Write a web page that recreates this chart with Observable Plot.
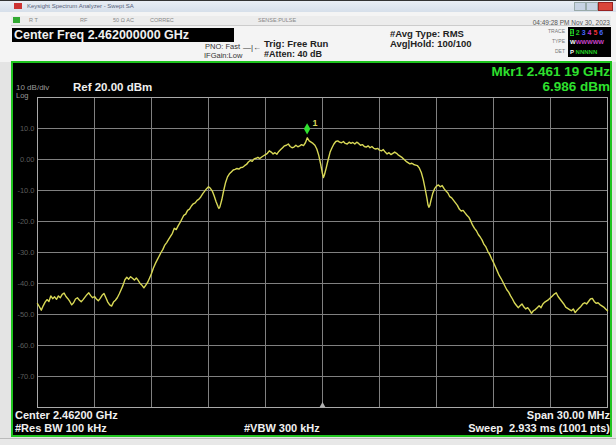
<!DOCTYPE html>
<html><head><meta charset="utf-8">
<script src="https://cdn.jsdelivr.net/npm/d3@7"></script>
<script src="https://cdn.jsdelivr.net/npm/@observablehq/plot@0.6"></script>
<style>
html,body{margin:0;padding:0;background:#e6e6e6;}
#wrap{position:relative;width:616px;height:445px;overflow:hidden;background:#e4e4e4;font-family:"Liberation Sans",Arial,sans-serif;}
.a{position:absolute;white-space:nowrap;line-height:1;}
.w{color:#f0f0f0;font-weight:bold;}
.g{color:#2ee02e;font-weight:bold;}
.d{color:#222;font-weight:bold;}
#plot{position:absolute;left:0;top:0;}
</style></head>
<body>
<div id="wrap">
  <div class="a" style="left:0;top:0;width:616px;height:11px;background:linear-gradient(#e9eef5,#d6dfea);border-top:1px solid #333;"></div>
  <div class="a" style="left:14px;top:3px;width:8px;height:6px;background:#c33;"></div>
  <div class="a" style="left:27px;top:3px;font-size:6px;color:#56627a;">Keysight Spectrum Analyzer - Swept SA</div>
  <div class="a" style="left:574px;top:2px;width:10px;height:7px;background:#c7d3e3;border:1px solid #9aa;"></div>
  <div class="a" style="left:586px;top:2px;width:10px;height:7px;background:#c7d3e3;border:1px solid #9aa;"></div>
  <div class="a" style="left:598px;top:2px;width:13px;height:7px;background:#d9453a;border:1px solid #922;"></div>
  <div class="a" style="left:0;top:12px;width:616px;height:50px;background:#f4f4f4;"></div>
  <div class="a" style="left:11px;top:16px;width:600px;height:9px;background:#ececec;border-bottom:1px solid #ccc;"></div>
  <div class="a" style="left:13px;top:17px;width:7px;height:6px;background:#3a3;"></div>
  <div class="a" style="left:29px;top:18px;font-size:5.5px;color:#888;">R  T</div>
  <div class="a" style="left:80px;top:18px;font-size:5.5px;color:#888;">RF</div>
  <div class="a" style="left:113px;top:18px;font-size:5.5px;color:#888;">50 Ω   AC</div>
  <div class="a" style="left:150px;top:18px;font-size:5.5px;color:#888;">CORREC</div>
  <div class="a" style="left:258px;top:18px;font-size:5.5px;color:#888;">SENSE:PULSE</div>
  <div class="a w" style="left:12px;top:28px;width:222px;height:14px;background:#000;"></div>
  <div class="a w" style="left:14px;top:29px;font-size:12.5px;">Center Freq 2.462000000 GHz</div>
  <div class="a" style="left:205px;top:43px;font-size:7.5px;color:#333;">PNO: Fast</div>
  <div class="a" style="left:204px;top:52px;font-size:7.5px;color:#333;">IFGain:Low</div>
  <div class="a" style="left:243px;top:44px;font-size:8px;color:#333;">—|←</div>
  <div class="a d" style="left:264px;top:39px;font-size:9.5px;">Trig: Free Run</div>
  <div class="a d" style="left:264px;top:50px;font-size:9px;">#Atten: 40 dB</div>
  <div class="a d" style="left:390px;top:29px;font-size:9.5px;">#Avg Type: RMS</div>
  <div class="a d" style="left:390px;top:39px;font-size:9.5px;">Avg|Hold: 100/100</div>
  <div class="a" style="right:6px;top:20px;font-size:6.5px;color:#555;">04:49:28 PM Nov 30, 2023</div>
  <div class="a" style="right:51px;top:29px;font-size:5px;color:#777;">TRACE</div>
  <div class="a" style="right:51px;top:39px;font-size:5px;color:#777;">TYPE</div>
  <div class="a" style="right:51px;top:49px;font-size:5px;color:#777;">DET</div>
  <div class="a" style="left:568px;top:27px;width:43px;height:30px;background:#000;"></div>
  <div class="a" style="left:570px;top:29px;font-size:7px;font-weight:bold;"><span style="background:#2c2;color:#000">1</span> <span style="color:#2c2">2</span> <span style="color:#46f">3</span> <span style="color:#c3c">4</span> <span style="color:#e33">5</span> <span style="color:#46f">6</span></div>
  <div class="a" style="left:570px;top:39px;font-size:6px;font-weight:bold;"><span style="color:#fff">W</span><span style="color:#c4c">WWWWW</span></div>
  <div class="a" style="left:570px;top:49px;font-size:6px;font-weight:bold;"><span style="color:#fff">P</span><span style="color:#2c2"> NNNNN</span></div>
  <div class="a" style="left:11px;top:61px;width:601px;height:376px;background:#000;border:2px solid #1fc41f;box-sizing:border-box;"></div>
  <div class="a" style="left:16px;top:84px;font-size:8px;color:#9a9a9a;">10 dB/div</div>
  <div class="a" style="left:16px;top:92px;font-size:7.5px;color:#9a9a9a;">Log</div>
  <div class="a w" style="left:73px;top:82px;font-size:11.5px;">Ref 20.00 dBm</div>
  <div class="a g" style="right:6px;top:65px;font-size:13.5px;">Mkr1 2.461 19 GHz</div>
  <div class="a g" style="right:6px;top:80px;font-size:13.5px;">6.986 dBm</div>
  <div class="a w" style="left:15px;top:410px;font-size:11px;">Center 2.46200 GHz</div>
  <div class="a w" style="left:15px;top:423px;font-size:11px;">#Res BW 100 kHz</div>
  <div class="a w" style="left:244px;top:423px;font-size:11px;">#VBW 300 kHz</div>
  <div class="a w" style="right:6px;top:410px;font-size:11px;">Span 30.00 MHz</div>
  <div class="a w" style="right:6px;top:423px;font-size:11px;">Sweep&nbsp; 2.933 ms (1001 pts)</div>
  <div class="a" style="left:0;top:438px;width:616px;height:7px;background:#e8e8e8;border-top:1px solid #bbb;"></div>
  <div id="plot"></div>
</div>
<script>
// Sweep: centre 2.462 GHz, span 30 MHz; x values are offsets from centre in MHz
const freqOffsetMHz = [
-15.0,-14.9,-14.8,-14.7,-14.6,-14.5,-14.4,-14.3,-14.2,-14.1,-14.0,-13.9,-13.8,-13.7,-13.6,-13.5,-13.4,-13.3,-13.2,-13.1,
-13.0,-12.9,-12.8,-12.7,-12.6,-12.5,-12.4,-12.3,-12.2,-12.1,-12.0,-11.9,-11.8,-11.7,-11.6,-11.5,-11.4,-11.3,-11.2,-11.1,
-11.0,-10.9,-10.8,-10.7,-10.6,-10.5,-10.4,-10.3,-10.2,-10.1,-10.0,-9.9,-9.8,-9.7,-9.6,-9.5,-9.4,-9.3,-9.2,-9.1,
-9.0,-8.9,-8.8,-8.7,-8.6,-8.5,-8.4,-8.3,-8.2,-8.1,-8.0,-7.9,-7.8,-7.7,-7.6,-7.5,-7.4,-7.3,-7.2,-7.1,
-7.0,-6.9,-6.8,-6.7,-6.6,-6.5,-6.4,-6.3,-6.2,-6.1,-6.0,-5.9,-5.8,-5.7,-5.6,-5.5,-5.45,-5.4,-5.3,-5.2,
-5.1,-5.0,-4.9,-4.8,-4.7,-4.6,-4.5,-4.4,-4.3,-4.2,-4.1,-4.0,-3.9,-3.8,-3.7,-3.6,-3.5,-3.4,-3.3,-3.2,
-3.1,-3.0,-2.9,-2.8,-2.7,-2.6,-2.5,-2.4,-2.3,-2.2,-2.1,-2.0,-1.9,-1.8,-1.7,-1.6,-1.5,-1.4,-1.3,-1.2,
-1.1,-1.0,-0.9,-0.8,-0.7,-0.6,-0.5,-0.4,-0.3,-0.2,-0.1,-0.05,0.0,0.05,0.1,0.2,0.3,0.4,0.5,0.6,
0.7,0.8,0.9,1.0,1.1,1.2,1.3,1.4,1.5,1.6,1.7,1.8,1.9,2.0,2.1,2.2,2.3,2.4,2.5,2.6,
2.7,2.8,2.9,3.0,3.1,3.2,3.3,3.4,3.5,3.6,3.7,3.8,3.9,4.0,4.1,4.2,4.3,4.4,4.5,4.6,
4.7,4.8,4.9,5.0,5.1,5.2,5.3,5.4,5.5,5.55,5.6,5.65,5.7,5.8,5.9,6.0,6.1,6.2,6.3,6.4,
6.5,6.6,6.7,6.8,6.9,7.0,7.1,7.2,7.3,7.4,7.5,7.6,7.7,7.8,7.9,8.0,8.1,8.2,8.3,8.4,
8.5,8.6,8.7,8.8,8.9,9.0,9.1,9.2,9.3,9.4,9.5,9.6,9.7,9.8,9.9,10.0,10.1,10.2,10.3,10.4,
10.5,10.6,10.7,10.8,10.9,11.0,11.1,11.2,11.3,11.4,11.5,11.6,11.7,11.8,11.9,12.0,12.1,12.2,12.3,12.4,
12.5,12.6,12.7,12.8,12.9,13.0,13.1,13.2,13.3,13.4,13.5,13.6,13.7,13.8,13.9,14.0,14.1,14.2,14.3,14.4,
14.5,14.6,14.7,14.8,14.9,15.0];
const levelDbm = [
-46.5,-47.5,-48.6,-47.2,-46.0,-45.2,-45.8,-44.0,-44.9,-44.3,-45.1,-44.0,-44.6,-43.5,-43.1,-44.2,-44.9,-45.8,-46.9,-46.2,
-45.0,-44.6,-45.3,-45.9,-45.2,-44.4,-43.6,-43.0,-43.9,-44.6,-44.2,-45.0,-45.6,-44.8,-43.8,-43.2,-44.6,-46.0,-46.9,-47.3,
-46.0,-45.4,-44.6,-43.4,-42.0,-40.6,-38.8,-38.0,-38.6,-37.8,-38.3,-38.9,-38.2,-39.0,-40.0,-40.6,-41.4,-40.5,-39.6,-38.2,
-36.8,-35.0,-33.6,-32.4,-31.2,-30.0,-29.0,-27.6,-26.8,-25.8,-24.8,-23.8,-22.2,-22.6,-21.4,-20.4,-19.2,-18.0,-17.6,-16.4,
-16.0,-15.0,-14.3,-14.0,-13.2,-12.8,-12.0,-11.0,-10.2,-9.4,-8.8,-9.3,-10.2,-11.8,-13.6,-15.2,-15.8,-15.3,-13.0,-10.0,
-7.4,-5.6,-4.6,-4.0,-3.4,-3.2,-2.9,-3.1,-2.6,-2.5,-2.0,-1.6,-0.8,-0.3,-0.6,0.2,0.4,0.7,0.3,0.8,
1.2,1.6,2.0,2.8,2.4,1.8,2.2,1.7,2.6,3.2,3.8,4.4,4.6,5.0,4.2,3.8,4.0,4.6,4.1,4.4,
4.8,4.5,5.4,7.0,6.0,5.6,5.2,4.6,3.4,1.4,-1.4,-3.0,-4.6,-5.8,-5.0,-2.6,0.0,2.4,3.8,5.0,
5.8,6.0,5.6,5.4,5.8,5.2,5.0,5.6,5.2,5.5,5.0,5.6,5.2,4.6,4.8,4.2,4.0,4.4,3.8,4.2,
3.6,3.4,3.6,3.0,2.8,3.2,2.4,1.8,2.2,1.6,2.0,2.4,2.0,1.4,1.0,0.6,0.0,-0.6,-1.0,-1.4,
-1.2,-1.6,-1.8,-2.0,-2.8,-4.2,-6.4,-9.4,-12.6,-14.6,-15.4,-14.8,-13.4,-11.0,-9.4,-8.6,-8.2,-8.8,-8.4,-9.4,
-10.2,-10.8,-12.0,-12.4,-13.2,-14.0,-14.8,-16.0,-16.6,-16.4,-17.2,-18.0,-18.6,-19.8,-21.2,-22.2,-23.0,-24.2,-25.0,-26.0,
-27.4,-28.2,-29.6,-30.6,-32.0,-33.2,-34.6,-36.0,-37.4,-38.4,-39.6,-40.8,-42.0,-42.8,-44.0,-45.0,-46.2,-47.0,-47.8,-47.2,
-46.6,-47.6,-48.2,-47.8,-48.6,-49.6,-48.8,-48.4,-47.8,-47.2,-47.8,-46.6,-46.0,-45.6,-45.2,-44.6,-44.0,-43.4,-43.0,-44.2,
-45.0,-45.8,-46.6,-47.6,-48.0,-48.4,-48.8,-48.2,-49.4,-48.6,-48.0,-47.4,-46.6,-46.2,-46.6,-45.8,-45.0,-44.8,-45.8,-46.4,
-46.2,-46.8,-47.2,-47.6,-48.2,-48.8];

const gridFreqMHz = [-15, -12, -9, -6, -3, 0, 3, 6, 9, 12, 15];
const gridDbm = [20, 10, 0, -10, -20, -30, -40, -50, -60, -70, -80];
const tickLabelDbm = [10, 0, -10, -20, -30, -40, -50, -60, -70];
const markerFreqMHz = [-0.81];
const markerLevelDbm = [6.986];
const markerNames = ["1"];
const centreMark = [{f: 0, v: -80}];

const trace = freqOffsetMHz.map((f, i) => ({f, v: levelDbm[i]}));
const markers = markerFreqMHz.map((f, i) => ({f, v: markerLevelDbm[i], name: markerNames[i]}));
const fmt = d => d === 0 ? "0.00" : d.toFixed(1);

const chart = Plot.plot({
  width: 616, height: 445,
  marginLeft: 37, marginRight: 9, marginTop: 97, marginBottom: 38,
  x: {domain: [-15, 15], axis: null},
  y: {domain: [-80, 20], axis: null},
  style: {background: "transparent", fontFamily: "Liberation Sans, Arial, sans-serif", overflow: "visible"},
  marks: [
    Plot.gridX(gridFreqMHz, {stroke: "#808080", strokeOpacity: 1, strokeWidth: 1}),
    Plot.gridY(gridDbm, {stroke: "#808080", strokeOpacity: 1, strokeWidth: 1}),
    Plot.frame({stroke: "#a9a9a9"}),
    Plot.text(tickLabelDbm, {x: -15, y: d => d, text: fmt, textAnchor: "end", dx: -3, fill: "#5c5c5c", fontSize: 7.5}),
    Plot.line(trace, {x: "f", y: "v", stroke: "#d8d856", strokeWidth: 1.4}),
    Plot.dot(markers, {x: "f", y: "v", symbol: "diamond", r: 3.4, fill: "#30e030", stroke: "none", dy: -9}),
    Plot.text(markers, {x: "f", y: "v", text: "name", dx: 8, dy: -15, fill: "#d6d65a", fontSize: 9, fontWeight: "bold"}),
    Plot.dot(centreMark, {x: "f", y: "v", symbol: "triangle", r: 2.2, fill: "#b0b0b0", dy: -2})
  ]
});
document.getElementById("plot").appendChild(chart);
</script>
</body></html>
